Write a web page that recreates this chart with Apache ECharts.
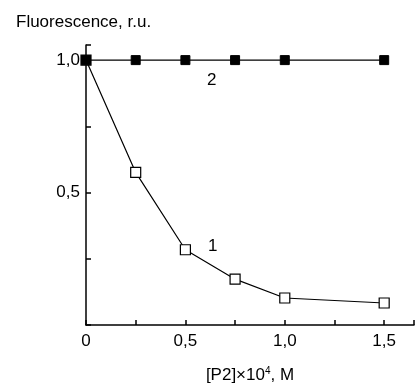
<!DOCTYPE html>
<html lang="en">
<head>
    <meta charset="UTF-8">
    <title>Fluorescence</title>
    <script src="https://cdn.jsdelivr.net/npm/echarts@6.0.0/dist/echarts.min.js"></script>
    <style>
        body { margin: 0; background: #fff; }
    </style>
</head>
<body>
    <div id="main" style="width: 416px;height:385px;"></div>
    <script type="text/javascript">
        // concentration of P2, x10^4 M
        const conc = [0, 0.25, 0.5, 0.75, 1.0, 1.5];
        // curve 1 (open squares) and curve 2 (filled squares)
        const fluor1 = [1.0, 0.576, 0.284, 0.173, 0.102, 0.083];
        const fluor2 = [1.0, 1.0, 1.0, 1.0, 1.0, 1.0];
        const xTickLabels = ['0', '0,5', '1,0', '1,5'];
        const yTickLabels = ['0,5', '1,0'];

        const font = 'Liberation Sans, Arial, sans-serif';

        function fmt(v, list) {
            const s = (Math.round(v * 100) / 100).toString().replace('.', ',');
            const t = s.indexOf(',') < 0 && v !== 0 ? s + ',0' : s;
            return list.indexOf(t) >= 0 ? t : '';
        }

        // text-only mark placed in data units
        function curveLabel(text, x, y) {
            return {
                symbol: 'circle',
                symbolSize: 1,
                itemStyle: { color: 'rgba(0,0,0,0)' },
                label: { show: true, position: 'inside', formatter: text, fontFamily: font, fontSize: 17, color: '#000' },
                data: [{ coord: [x, y] }]
            };
        }

        let myChart = echarts.init(document.getElementById('main'));

        let options = {
            animation: false,
            title: {
                text: 'Fluorescence, r.u.',
                left: 11,
                top: 9,
                textStyle: { fontFamily: font, fontSize: 17, fontWeight: 'normal', color: '#000' }
            },
            grid: { left: 86, right: 2, top: 45, bottom: 60, outerBoundsMode: 'none' },
            xAxis: {
                type: 'value',
                min: 0,
                max: 1.65,
                interval: 0.5,
                name: '[P2]×10{sup|4}, M',
                nameLocation: 'middle',
                nameGap: 41,
                nameTextStyle: {
                    fontFamily: font, fontSize: 17, color: '#000',
                    rich: { sup: { fontFamily: font, fontSize: 10, color: '#000', padding: [0, 0, 9, 0] } }
                },
                axisLine: { lineStyle: { color: '#000', width: 1.5 } },
                axisTick: { inside: true, length: 5, lineStyle: { color: '#000', width: 1.5 } },
                minorTick: { show: true, splitNumber: 2, length: 5, lineStyle: { color: '#000', width: 1.5 } },
                axisLabel: {
                    margin: 8, fontFamily: font, fontSize: 17, color: '#000',
                    formatter: v => fmt(v, xTickLabels)
                },
                splitLine: { show: false }
            },
            yAxis: {
                type: 'value',
                min: 0,
                max: 1.057,
                interval: 0.5,
                axisLine: { show: true, lineStyle: { color: '#000', width: 1.5 } },
                axisTick: { show: true, inside: true, length: 5, lineStyle: { color: '#000', width: 1.5 } },
                minorTick: { show: true, splitNumber: 2, length: 5, lineStyle: { color: '#000', width: 1.5 } },
                axisLabel: {
                    margin: 6, fontFamily: font, fontSize: 17, color: '#000',
                    formatter: v => fmt(v, yTickLabels)
                },
                splitLine: { show: false }
            },
            series: [
                {
                    name: '1',
                    type: 'line',
                    data: conc.map((x, i) => [x, fluor1[i]]),
                    symbol: 'rect',
                    symbolSize: 10,
                    lineStyle: { color: '#000', width: 1.2 },
                    itemStyle: { color: '#fff', borderColor: '#000', borderWidth: 1.2 },
                    markPoint: curveLabel('1', 0.637, 0.298),
                    z: 2
                },
                {
                    name: '2',
                    type: 'line',
                    data: conc.map((x, i) => [x, fluor2[i]]),
                    symbol: 'rect',
                    symbolSize: 9,
                    lineStyle: { color: '#000', width: 1.2 },
                    itemStyle: { color: '#000', borderColor: '#000' },
                    markPoint: curveLabel('2', 0.632, 0.925),
                    z: 3
                }
            ]
        };

        myChart.setOption(options);
    </script>
</body>
</html>
